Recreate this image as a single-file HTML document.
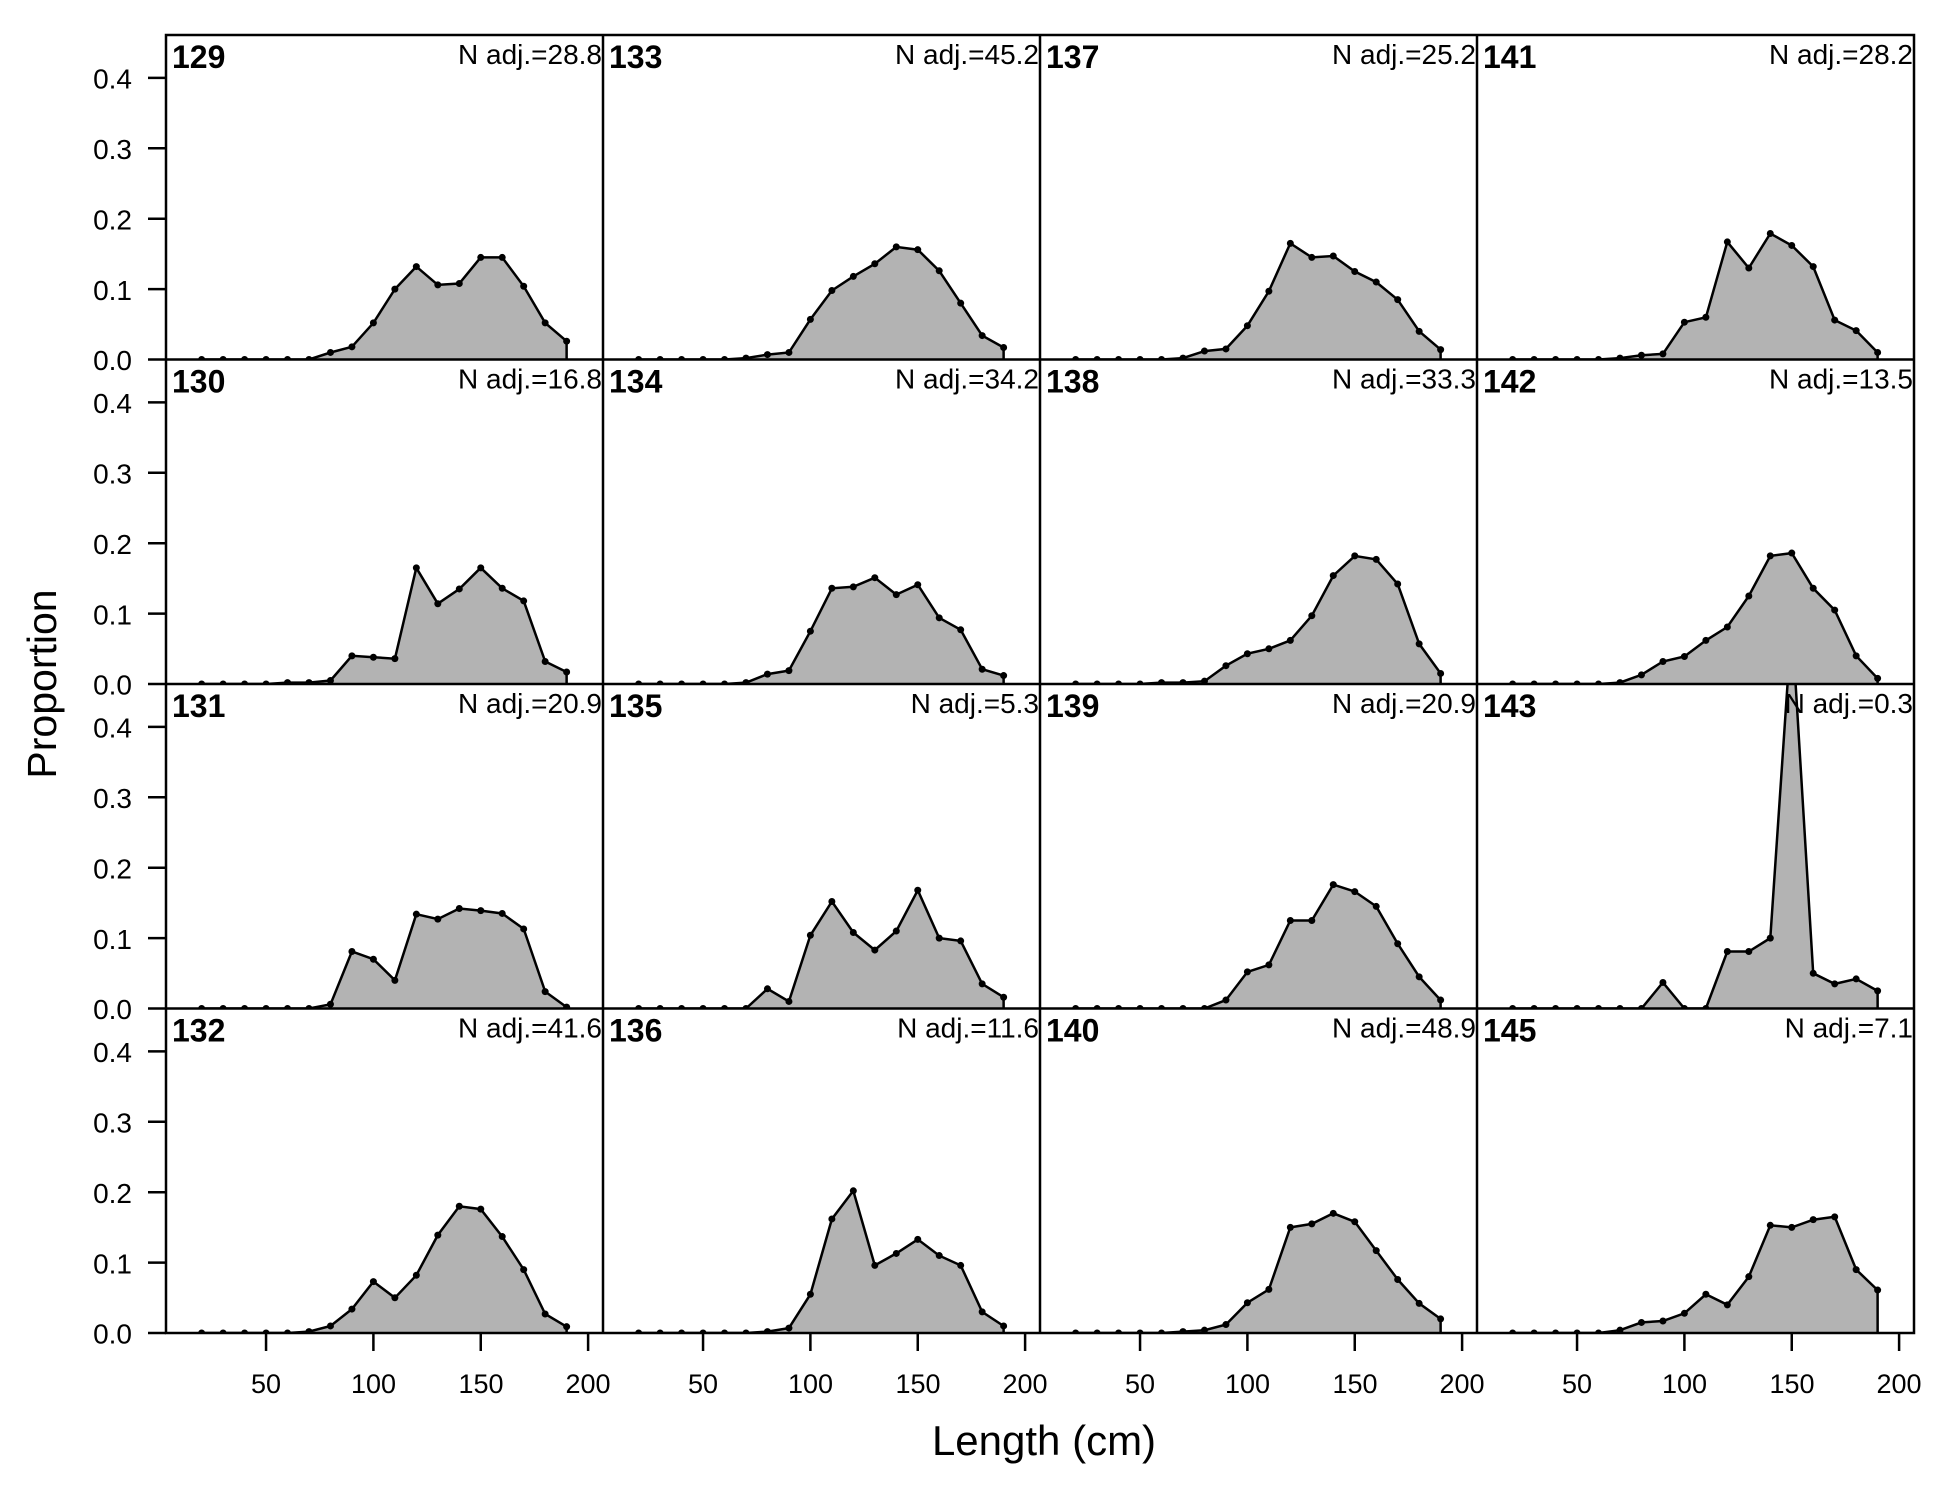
<!DOCTYPE html>
<html><head><meta charset="utf-8"><style>
html,body{margin:0;padding:0;background:#fff;}
svg{display:block;}
text{font-family:"Liberation Sans",Arial,sans-serif;fill:#000;}
</style></head><body>
<svg id="s" width="1950" height="1500" viewBox="0 0 1950 1500" xmlns="http://www.w3.org/2000/svg">
<g id="plots"></g>
<g id="frame" fill="none" stroke="#000" stroke-width="2.5">
<rect x="166" y="35" width="1748" height="1298"/>
<line x1="603" y1="35" x2="603" y2="1333"/>
<line x1="1040" y1="35" x2="1040" y2="1333"/>
<line x1="1477" y1="35" x2="1477" y2="1333"/>
<line x1="166" y1="359.5" x2="1914" y2="359.5"/>
<line x1="166" y1="684" x2="1914" y2="684"/>
<line x1="166" y1="1008.5" x2="1914" y2="1008.5"/>
</g>
<g id="ticks" stroke="#000" stroke-width="2.5"></g>
<text x="1044" y="1455" font-size="42" text-anchor="middle">Length (cm)</text>
<text x="0" y="0" font-size="41" text-anchor="middle" transform="translate(56,684) rotate(-90)">Proportion</text>
<g font-size="32" font-weight="bold">
<text x="172" y="68">129</text><text x="609" y="68">133</text><text x="1046" y="68">137</text><text x="1483" y="68">141</text>
<text x="172" y="392.5">130</text><text x="609" y="392.5">134</text><text x="1046" y="392.5">138</text><text x="1483" y="392.5">142</text>
<text x="172" y="717">131</text><text x="609" y="717">135</text><text x="1046" y="717">139</text><text x="1483" y="717">143</text>
<text x="172" y="1041.5">132</text><text x="609" y="1041.5">136</text><text x="1046" y="1041.5">140</text><text x="1483" y="1041.5">145</text>
</g>
<g font-size="28" text-anchor="end">
<text x="602" y="64">N adj.=28.8</text><text x="1039" y="64">N adj.=45.2</text><text x="1476" y="64">N adj.=25.2</text><text x="1913" y="64">N adj.=28.2</text>
<text x="602" y="388.5">N adj.=16.8</text><text x="1039" y="388.5">N adj.=34.2</text><text x="1476" y="388.5">N adj.=33.3</text><text x="1913" y="388.5">N adj.=13.5</text>
<text x="602" y="713">N adj.=20.9</text><text x="1039" y="713">N adj.=5.3</text><text x="1476" y="713">N adj.=20.9</text><text x="1913" y="713">N adj.=0.3</text>
<text x="602" y="1037.5">N adj.=41.6</text><text x="1039" y="1037.5">N adj.=11.6</text><text x="1476" y="1037.5">N adj.=48.9</text><text x="1913" y="1037.5">N adj.=7.1</text>
</g>
<g font-size="28" text-anchor="end">
<text x="132" y="88.5">0.4</text><text x="132" y="159">0.3</text><text x="132" y="229.5">0.2</text><text x="132" y="300">0.1</text><text x="132" y="370">0.0</text>
<text x="132" y="413">0.4</text><text x="132" y="483.5">0.3</text><text x="132" y="554">0.2</text><text x="132" y="624.5">0.1</text><text x="132" y="694.5">0.0</text>
<text x="132" y="737.5">0.4</text><text x="132" y="808">0.3</text><text x="132" y="878.5">0.2</text><text x="132" y="949">0.1</text><text x="132" y="1019">0.0</text>
<text x="132" y="1062">0.4</text><text x="132" y="1132.5">0.3</text><text x="132" y="1203">0.2</text><text x="132" y="1273.5">0.1</text><text x="132" y="1343.5">0.0</text>
</g>
<g font-size="27" text-anchor="middle">
<text x="266" y="1393">50</text><text x="373.5" y="1393">100</text><text x="481" y="1393">150</text><text x="588" y="1393">200</text>
<text x="703" y="1393">50</text><text x="810.5" y="1393">100</text><text x="918" y="1393">150</text><text x="1025" y="1393">200</text>
<text x="1140" y="1393">50</text><text x="1247.5" y="1393">100</text><text x="1355" y="1393">150</text><text x="1462" y="1393">200</text>
<text x="1577" y="1393">50</text><text x="1684.5" y="1393">100</text><text x="1792" y="1393">150</text><text x="1899" y="1393">200</text>
</g>
</svg>
<script>
(function(){
var NS="http://www.w3.org/2000/svg";
function z(a){var r={};for(var i=20;i<=190;i+=10)r[i]=0;for(var k in a)r[k]=a[k];var o=[];for(var i=20;i<=190;i+=10)o.push(r[i]);return o;}
var D=[
[z({80:.01,90:.018,100:.052,110:.1,120:.132,130:.106,140:.108,150:.145,160:.145,170:.104,180:.052,190:.026}),
 z({60:.002,70:.002,80:.005,90:.04,100:.038,110:.036,120:.165,130:.114,140:.135,150:.165,160:.136,170:.118,180:.032,190:.017}),
 z({80:.006,90:.081,100:.07,110:.04,120:.134,130:.127,140:.142,150:.139,160:.135,170:.113,180:.024,190:.002}),
 z({70:.002,80:.01,90:.034,100:.073,110:.05,120:.082,130:.139,140:.18,150:.176,160:.137,170:.09,180:.027,190:.009})],
[z({70:.002,80:.007,90:.01,100:.057,110:.098,120:.118,130:.136,140:.16,150:.156,160:.126,170:.08,180:.034,190:.017}),
 z({70:.002,80:.014,90:.019,100:.075,110:.136,120:.138,130:.151,140:.127,150:.141,160:.094,170:.077,180:.021,190:.012}),
 z({80:.028,90:.01,100:.104,110:.152,120:.108,130:.083,140:.11,150:.168,160:.1,170:.096,180:.035,190:.016}),
 z({80:.002,90:.007,100:.055,110:.162,120:.202,130:.096,140:.113,150:.133,160:.11,170:.096,180:.03,190:.01})],
[z({70:.002,80:.012,90:.015,100:.048,110:.097,120:.165,130:.145,140:.147,150:.125,160:.11,170:.085,180:.04,190:.014}),
 z({60:.002,70:.002,80:.004,90:.026,100:.043,110:.05,120:.062,130:.097,140:.154,150:.182,160:.177,170:.142,180:.057,190:.015}),
 z({90:.012,100:.052,110:.062,120:.125,130:.125,140:.176,150:.166,160:.145,170:.092,180:.045,190:.012}),
 z({70:.002,80:.004,90:.012,100:.043,110:.062,120:.15,130:.155,140:.17,150:.158,160:.117,170:.076,180:.042,190:.02})],
[z({70:.002,80:.006,90:.008,100:.053,110:.06,120:.167,130:.13,140:.179,150:.162,160:.132,170:.056,180:.041,190:.01}),
 z({70:.002,80:.013,90:.032,100:.039,110:.062,120:.081,130:.125,140:.182,150:.186,160:.136,170:.105,180:.04,190:.008}),
 z({90:.037,120:.081,130:.081,140:.1,150:.55,160:.05,170:.035,180:.042,190:.025}),
 z({70:.004,80:.015,90:.017,100:.028,110:.055,120:.04,130:.08,140:.153,150:.15,160:.161,170:.165,180:.09,190:.061})]
];
var colL=[166,603,1040,1477],K=2.147,x0=[158.7,595.7,1032.7,1469.7],rowB=[359.5,684,1008.5,1333],YS=704;
var g=document.getElementById("plots"),t=document.getElementById("ticks");
var defs=document.createElementNS(NS,"defs");g.appendChild(defs);
function el(n,a,p){var e=document.createElementNS(NS,n);for(var k in a)e.setAttribute(k,a[k]);(p||g).appendChild(e);return e;}
for(var c=0;c<4;c++)for(var r=0;r<4;r++){
 var id="c"+c+r;var cp=el("clipPath",{id:id},defs);
 el("rect",{x:colL[c],y:rowB[r]-324.5,width:437,height:324.5},cp);
 var gg=el("g",{"clip-path":"url(#"+id+")"});
 var d=D[c][r],pts=[];
 for(var i=0;i<18;i++){var L=20+10*i;pts.push([x0[c]+K*L,rowB[r]-YS*d[i]]);}
 var s=pts.map(function(p){return p[0].toFixed(1)+","+p[1].toFixed(1);}).join(" ");
 el("polygon",{points:pts[0][0]+","+rowB[r]+" "+s+" "+pts[17][0]+","+rowB[r],fill:"#b3b3b3",stroke:"none"},gg);
 el("polyline",{points:s+" "+pts[17][0]+","+rowB[r],fill:"none",stroke:"#000","stroke-width":2.5},gg);
 for(var i=0;i<18;i++)el("circle",{cx:pts[i][0],cy:pts[i][1],r:3.5,fill:"#000"},gg);
}
for(var r=0;r<4;r++)for(var k=0;k<=4;k++){var y=rowB[r]-70.4*k;el("line",{x1:148,x2:166,y1:y,y2:y},t);}
for(var c=0;c<4;c++)for(var k=1;k<=4;k++){var x=x0[c]+K*50*k;el("line",{x1:x,x2:x,y1:1333,y2:1351},t);}
})();
</script>
</body></html>
